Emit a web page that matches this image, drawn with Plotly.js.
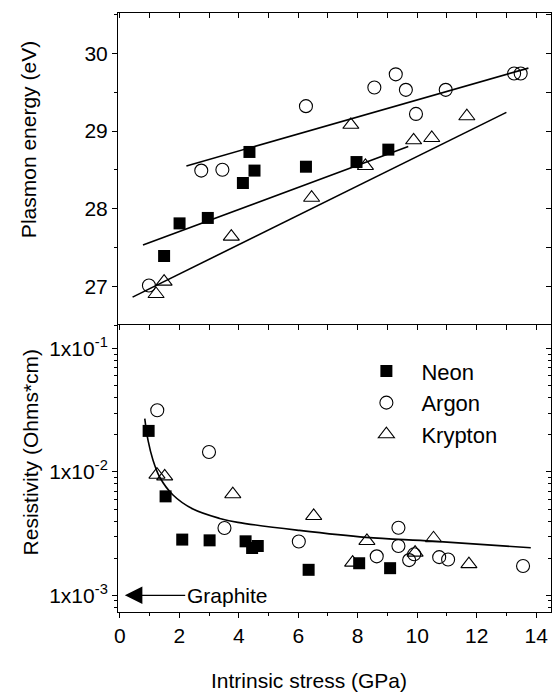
<!DOCTYPE html>
<html>
<head>
<meta charset="utf-8">
<script src="https://cdn.plot.ly/plotly-3.0.1.min.js"></script>
<style>html,body{margin:0;padding:0;background:#fff;}#chart{width:553px;height:692px;}</style>
</head>
<body>
<div id="chart"></div>
<script>
// ---- Top panel: plasmon energy (eV) vs intrinsic stress (GPa) ----
var neonTopX = [1.49, 2.01, 2.96, 4.14, 4.36, 4.53, 6.26, 7.96, 9.03];
var neonTopY = [27.39, 27.81, 27.88, 28.33, 28.73, 28.49, 28.54, 28.60, 28.76];
var argonTopX = [0.98, 2.74, 3.45, 6.26, 8.56, 9.28, 9.62, 9.96, 10.96, 13.26, 13.48];
var argonTopY = [27.01, 28.49, 28.50, 29.32, 29.56, 29.73, 29.53, 29.22, 29.53, 29.74, 29.74];
var kryptonTopX = [1.22, 1.49, 3.75, 6.45, 7.77, 8.26, 9.88, 10.49, 11.67];
var kryptonTopY = [26.90, 27.06, 27.64, 28.14, 29.08, 28.55, 28.88, 28.91, 29.19];

// fit lines (end points)
var argonFitX = [2.24, 13.74];
var argonFitY = [28.55, 29.81];
var neonFitX = [0.78, 9.7];
var neonFitY = [27.53, 28.80];
var kryptonFitX = [0.43, 13.0];
var kryptonFitY = [26.86, 29.24];

// ---- Bottom panel: resistivity (Ohms*cm) ----
var neonBotX = [0.97, 1.54, 2.10, 3.02, 4.23, 4.45, 4.64, 6.35, 8.05, 9.09];
var neonBotY = [0.0215, 0.00634, 0.00283, 0.00279, 0.00274, 0.00242, 0.00251, 0.00161, 0.00182, 0.00166];
var argonBotX = [1.26, 3.0, 3.52, 6.02, 8.64, 9.37, 9.37, 9.73, 9.9, 10.74, 11.04, 13.56];
var argonBotY = [0.0316, 0.01452, 0.00351, 0.00273, 0.00207, 0.00353, 0.00251, 0.00193, 0.00215, 0.00204, 0.00195, 0.00173];
var kryptonBotX = [1.25, 1.51, 3.80, 6.52, 7.83, 8.31, 9.93, 10.55, 11.74];
var kryptonBotY = [0.0095, 0.0092, 0.0066, 0.0044, 0.00184, 0.00276, 0.00222, 0.00290, 0.00179];

// fit curve samples
var resFitX = [0.84, 0.95, 1.12, 1.34, 1.79, 2.46, 3.36, 3.97, 6.04, 8.28, 10.51, 13.82];
var resFitY = [0.0270, 0.0180, 0.0124, 0.0091, 0.0065, 0.0050, 0.0042, 0.0039, 0.00336, 0.00295, 0.00275, 0.00243];

// tick labels
var resTickVals = [0.001, 0.01, 0.1];
var resTickText = ['1x10<sup>-3</sup>', '1x10<sup>-2</sup>', '1x10<sup>-1</sup>'];

var FONT = 'Liberation Sans, Arial, Helvetica, sans-serif';
var XRANGE = [-0.06, 14.5];
var SPLIT = 0.479;

var mk = {
  neon: {symbol: 'square', size: 12, color: '#000', line: {width: 0}},
  argon: {symbol: 'circle-open', size: 13, color: '#000', line: {width: 1.1}},
  krypton: {symbol: 'triangle-up-open', size: 14, color: '#000', line: {width: 1.1}}
};
var fitLine = {color: '#000', width: 1.6};

var traces = [
  // top panel
  {x: neonTopX, y: neonTopY, xaxis: 'x2', yaxis: 'y2', mode: 'markers', marker: mk.neon, showlegend: false, name: 'Neon'},
  {x: argonTopX, y: argonTopY, xaxis: 'x2', yaxis: 'y2', mode: 'markers', marker: mk.argon, showlegend: false, name: 'Argon'},
  {x: kryptonTopX, y: kryptonTopY, xaxis: 'x2', yaxis: 'y2', mode: 'markers', marker: mk.krypton, showlegend: false, name: 'Krypton'},
  {x: argonFitX, y: argonFitY, xaxis: 'x2', yaxis: 'y2', mode: 'lines', line: fitLine, showlegend: false, hoverinfo: 'skip'},
  {x: neonFitX, y: neonFitY, xaxis: 'x2', yaxis: 'y2', mode: 'lines', line: fitLine, showlegend: false, hoverinfo: 'skip'},
  {x: kryptonFitX, y: kryptonFitY, xaxis: 'x2', yaxis: 'y2', mode: 'lines', line: fitLine, showlegend: false, hoverinfo: 'skip'},
  // bottom panel
  {x: resFitX, y: resFitY, xaxis: 'x', yaxis: 'y', mode: 'lines', line: {color: '#000', width: 1.6, shape: 'spline', smoothing: 1}, showlegend: false, hoverinfo: 'skip'},
  {x: neonBotX, y: neonBotY, xaxis: 'x', yaxis: 'y', mode: 'markers', marker: mk.neon, name: 'Neon'},
  {x: argonBotX, y: argonBotY, xaxis: 'x', yaxis: 'y', mode: 'markers', marker: mk.argon, name: 'Argon'},
  {x: kryptonBotX, y: kryptonBotY, xaxis: 'x', yaxis: 'y', mode: 'markers', marker: mk.krypton, name: 'Krypton'},
  // empty traces so mirrored frame axes exist
  {x: [], y: [], xaxis: 'x3', yaxis: 'y', showlegend: false, hoverinfo: 'skip'},
  {x: [], y: [], xaxis: 'x2', yaxis: 'y3', showlegend: false, hoverinfo: 'skip'},
  {x: [], y: [], xaxis: 'x', yaxis: 'y4', showlegend: false, hoverinfo: 'skip'}
];

var tickFont = {family: FONT, size: 21, color: '#000'};
var base = {showgrid: false, zeroline: false, showline: true, linecolor: '#000', linewidth: 1, tickcolor: '#000', tickwidth: 1, tickfont: tickFont};
function ax(o) { return Object.assign({}, base, o); }

var layout = {
  width: 553, height: 692,
  margin: {l: 118, r: 2, t: 13, b: 80},
  paper_bgcolor: '#fff', plot_bgcolor: 'rgba(0,0,0,0)',
  font: {family: FONT, color: '#000'},
  showlegend: true,
  legend: {x: 0.539, y: 0.437, xanchor: 'left', yanchor: 'top', yref: 'paper', font: {family: FONT, size: 22, color: '#000'}, itemwidth: 60, tracegroupgap: 0, bgcolor: 'rgba(0,0,0,0)', borderwidth: 0},
  xaxis: ax({anchor: 'y', domain: [0, 1], range: XRANGE, tickmode: 'linear', tick0: 0, dtick: 2, ticks: 'outside', ticklen: 5,
    minor: {tickmode: 'linear', tick0: 0, dtick: 1, ticks: 'outside', ticklen: 3, tickcolor: '#000', showgrid: false}}),
  xaxis3: ax({overlaying: 'x', anchor: 'y', side: 'top', range: XRANGE, tickmode: 'linear', tick0: 0, dtick: 1, ticks: 'inside', ticklen: 5, showticklabels: false}),
  xaxis2: ax({anchor: 'y2', side: 'top', domain: [0, 1], range: XRANGE, tickmode: 'linear', tick0: 0, dtick: 1, ticks: 'inside', ticklen: 5, showticklabels: false}),
  yaxis: ax({anchor: 'x', domain: [0, SPLIT], type: 'log', range: [-3.135, -0.81], tickmode: 'array', tickvals: resTickVals, ticktext: resTickText, ticks: 'outside', ticklen: 5,
    minor: {ticks: 'outside', ticklen: 3, dtick: 'D1', tickcolor: '#000', showgrid: false}}),
  yaxis4: ax({overlaying: 'y', anchor: 'x', side: 'right', type: 'log', range: [-3.135, -0.81], tickmode: 'array', tickvals: resTickVals, ticks: 'inside', ticklen: 5, showticklabels: false,
    minor: {ticks: 'inside', ticklen: 3, dtick: 'D1', tickcolor: '#000', showgrid: false}}),
  yaxis2: ax({anchor: 'x2', domain: [SPLIT, 1], range: [26.5, 30.52], tickmode: 'linear', tick0: 27, dtick: 1, ticks: 'outside', ticklen: 5,
    minor: {tickmode: 'linear', tick0: 27, dtick: 0.5, ticks: 'outside', ticklen: 3, tickcolor: '#000', showgrid: false}}),
  yaxis3: ax({overlaying: 'y2', anchor: 'x2', side: 'right', range: [26.5, 30.52], tickmode: 'linear', tick0: 27, dtick: 0.5, ticks: 'inside', ticklen: 5, showticklabels: false}),
  annotations: [
    {text: 'Plasmon energy (eV)', xref: 'paper', yref: 'paper', x: (28 - 118) / 433, y: 1 - (140 - 13) / 598.4, xanchor: 'center', yanchor: 'middle', showarrow: false, textangle: -90,
      font: {family: FONT, size: 21, color: '#000'}},
    {text: 'Resistivity (Ohms*cm)', xref: 'paper', yref: 'paper', x: (30 - 118) / 433, y: 1 - (452 - 13) / 598.4, xanchor: 'center', yanchor: 'middle', showarrow: false, textangle: -90,
      font: {family: FONT, size: 21, color: '#000'}},
    {text: 'Intrinsic stress (GPa)', xref: 'paper', yref: 'paper', x: (309 - 118) / 433, y: -(680 - 611.7) / 598.4, xanchor: 'center', yanchor: 'middle', showarrow: false,
      font: {family: FONT, size: 21, color: '#000'}},
    {text: 'Graphite', xref: 'x', yref: 'y', x: 0.17, y: -3, axref: 'x', ayref: 'y', ax: 2.2, ay: -3, xanchor: 'left', yanchor: 'middle',
      showarrow: true, arrowhead: 2, arrowsize: 2.7, arrowwidth: 1.3, arrowcolor: '#000', standoff: 0, startstandoff: 0,
      font: {family: FONT, size: 21, color: '#000'}}
  ]
};

Plotly.newPlot('chart', traces, layout, {displayModeBar: false, staticPlot: true});
</script>
</body>
</html>
